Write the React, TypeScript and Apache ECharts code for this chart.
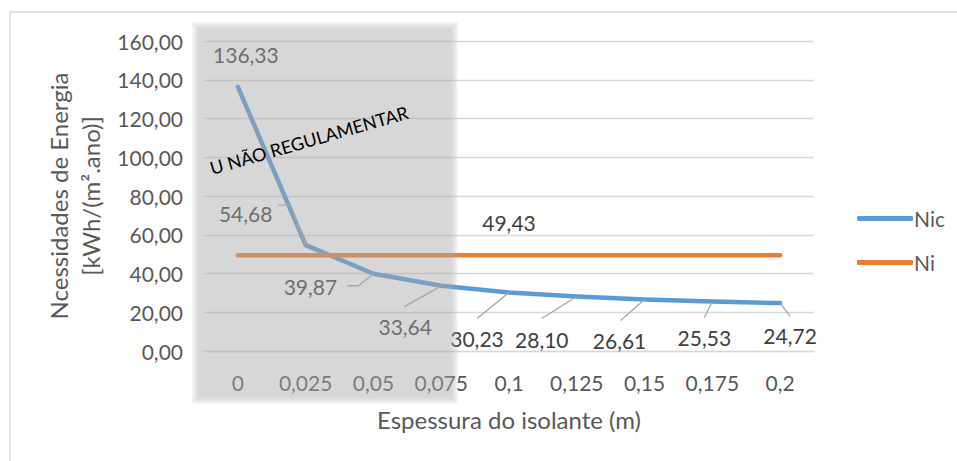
import React, { useEffect, useRef } from "react";
import * as echarts from "echarts";

const categories = ["0", "0,025", "0,05", "0,075", "0,1", "0,125", "0,15", "0,175", "0,2"];
const nicValues = [136.33, 54.68, 39.87, 33.64, 30.23, 28.1, 26.61, 25.53, 24.72];
const niValues = [49.43, 49.43, 49.43, 49.43, 49.43, 49.43, 49.43, 49.43, 49.43];
const seriesNames = ["Nic", "Ni"];
const niLabelIndex = 4;

// label offsets from each point (layout only)
const nicLabelOffsets: [number, number][] = [
  [8, -32], [-60, -32], [-63, 13], [-36, 41], [-32, 46], [-35, 43], [-25, 41], [-8, 36], [10, 32],
];
// leader line bends, relative to each point (layout only)
const nicLeaderOffsets: [number, number][][] = [
  [],
  [[-15, -40], [-28, -40]],
  [[-15, 12], [-26, 12]],
  [[-37, 21]],
  [[-32, 26]],
  [[-35, 22]],
  [[-24, 21]],
  [[-8, 16]],
  [[10, 13]],
];

const FONT = "Lato";
const fmt = (v: number) => v.toFixed(2).replace(".", ",");

// soft-edged overlay (layout only)
const overlayBox = { x: 198, y: 28, width: 254, height: 370 };
const featherSteps = [0, 2, 4, 6];

export default function App() {
  const ref = useRef<HTMLDivElement>(null);
  useEffect(() => {
    document.body.style.margin = "0";
    const chart = echarts.init(ref.current!, undefined, { renderer: "svg" });

    const overlayRects = featherSteps.map((e) => ({
      type: "rect",
      z: 50,
      silent: true,
      shape: {
        x: overlayBox.x - e,
        y: overlayBox.y - e,
        width: overlayBox.width + 2 * e,
        height: overlayBox.height + 2 * e,
      },
      style: { fill: "rgba(167,167,167,0.143)" },
    }));

    const baseGraphic: any[] = [
      {
        type: "rect",
        z: 0,
        silent: true,
        shape: { x: 10, y: 12, width: 1000, height: 500 },
        style: { fill: "none", stroke: "#d9d9d9", lineWidth: 1.3 },
      },
      ...overlayRects,
      {
        type: "text",
        z: 60,
        silent: true,
        x: 309,
        y: 140,
        rotation: (16 * Math.PI) / 180,
        style: {
          text: "U N\u00C3O REGULAMENTAR",
          fill: "#000000",
          fontSize: 18,
          fontWeight: "normal",
          fontFamily: FONT,
          align: "center",
          verticalAlign: "middle",
        },
      },
    ];

    chart.setOption({
      animation: false,
      backgroundColor: "#ffffff",
      textStyle: { fontFamily: FONT },
      grid: { left: 204, right: 143, top: 41, bottom: 110, containLabel: false },
      legend: {
        orient: "vertical",
        left: 852,
        top: 203,
        itemWidth: 56,
        itemHeight: 5,
        itemGap: 23,
        icon: "roundRect",
        textStyle: { fontFamily: FONT, fontSize: 21, color: "#595959", padding: [0, 0, 0, -4] },
        data: seriesNames,
      },
      xAxis: {
        type: "category",
        data: categories,
        boundaryGap: true,
        axisLine: { lineStyle: { color: "#d9d9d9", width: 1.3 } },
        axisTick: { show: false },
        axisLabel: { color: "#595959", fontSize: 21, margin: 21, fontFamily: FONT, interval: 0 },
        name: "Espessura do isolante (m)",
        nameLocation: "middle",
        nameGap: 56,
        nameTextStyle: { color: "#595959", fontSize: 24, fontFamily: FONT },
      },
      yAxis: {
        type: "value",
        min: 0,
        max: 160,
        interval: 20,
        axisLine: { show: false },
        axisTick: { show: false },
        splitLine: { lineStyle: { color: "#d9d9d9", width: 1.3 } },
        axisLabel: { color: "#595959", fontSize: 21, margin: 21, fontFamily: FONT, formatter: (v: number) => fmt(v) },
        name: "Ncessidades de Energia\n[kWh/(m\u00B2.ano)]",
        nameLocation: "middle",
        nameRotate: 90,
        nameGap: 96,
        nameTextStyle: { color: "#595959", fontSize: 24, fontFamily: FONT, lineHeight: 32 },
      },
      series: [
        {
          name: seriesNames[0],
          type: "line",
          data: nicValues,
          color: "#5b9bd5",
          symbol: "circle",
          symbolSize: 1,
          showSymbol: true,
          lineStyle: { width: 4.5, color: "#5b9bd5", cap: "round", join: "round" },
          label: {
            show: true,
            position: "inside",
            color: "#404040",
            fontSize: 21,
            fontFamily: FONT,
            formatter: (p: any) => fmt(p.value),
          },
          labelLayout: (p: any) => ({ dx: nicLabelOffsets[p.dataIndex][0], dy: nicLabelOffsets[p.dataIndex][1] }),
          z: 2,
        },
        {
          name: seriesNames[1],
          type: "line",
          data: niValues.map((v, i) => (i === niLabelIndex ? { value: v, label: { show: true } } : v)),
          color: "#ed7d31",
          symbol: "circle",
          symbolSize: 1,
          showSymbol: true,
          lineStyle: { width: 4.5, color: "#ed7d31", cap: "round", join: "round" },
          label: {
            show: false,
            position: "inside",
            color: "#404040",
            fontSize: 21,
            fontFamily: FONT,
            formatter: (p: any) => fmt(p.value),
          },
          labelLayout: { dy: -33 },
          z: 3,
        },
      ],
      graphic: baseGraphic,
    });

    const leaders = nicValues
      .map((v, i) => {
        const offs = nicLeaderOffsets[i];
        if (!offs.length) return null;
        const p = chart.convertToPixel({ seriesIndex: 0 }, [i, v]) as number[];
        const pts = [[p[0], p[1]], ...offs.map(([dx, dy]) => [p[0] + dx, p[1] + dy])];
        return {
          type: "polyline",
          z: 40,
          silent: true,
          shape: { points: pts },
          style: { stroke: "#a6a6a6", lineWidth: 1.3, fill: "none" },
        };
      })
      .filter(Boolean);

    chart.setOption({ graphic: [...baseGraphic, ...leaders] }, { replaceMerge: ["graphic"] });

    return () => chart.dispose();
  }, []);
  return <div ref={ref} style={{ position: "fixed", left: 0, top: 0, width: 957, height: 461 }} />;
}
